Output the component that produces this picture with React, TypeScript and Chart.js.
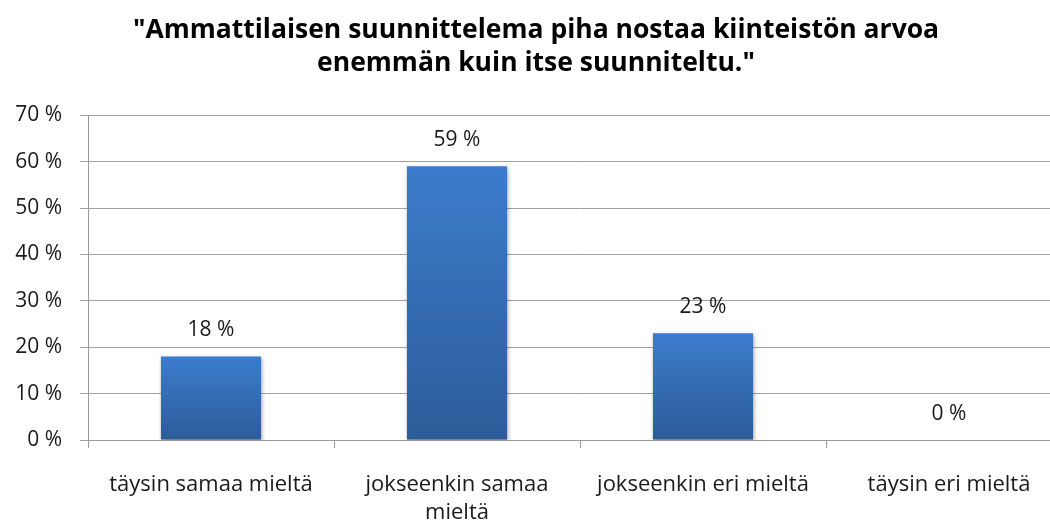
import React, { useEffect, useRef } from "react";
import { Chart, registerables } from "chart.js";

Chart.register(...registerables);

const titleLines = ['"Ammattilaisen suunnittelema piha nostaa kiinteistön arvoa', 'enemmän kuin itse suunniteltu."'];
const categories: string[][] = [
  ["täysin samaa mieltä"],
  ["jokseenkin samaa", "mieltä"],
  ["jokseenkin eri mieltä"],
  ["täysin eri mieltä"],
];
const values: number[] = [18, 59, 23, 0];
const yTicks: number[] = [0, 10, 20, 30, 40, 50, 60, 70];

const FONT = "'Open Sans', Lato, sans-serif";

const valueLabels = {
  id: "valueLabels",
  afterDatasetsDraw(chart: any) {
    const ctx = chart.ctx;
    const meta = chart.getDatasetMeta(0);
    ctx.save();
    ctx.font = `21px ${FONT}`;
    ctx.fillStyle = "#1a1a1a";
    ctx.textAlign = "center";
    ctx.textBaseline = "middle";
    meta.data.forEach((el: any, i: number) => {
      ctx.fillText(values[i] + " %", el.x, el.y - 26);
    });
    ctx.restore();
  },
};

const barShadow = {
  id: "barShadow",
  beforeDatasetsDraw(chart: any) {
    const ctx = chart.ctx;
    ctx.save();
    ctx.shadowColor = "rgba(0,0,0,0.35)";
    ctx.shadowBlur = 4;
    ctx.shadowOffsetX = 1;
    ctx.shadowOffsetY = 2;
  },
  afterDatasetsDraw(chart: any) {
    chart.ctx.restore();
  },
};

export default function App() {
  const ref = useRef<HTMLCanvasElement>(null);
  useEffect(() => {
    if (!ref.current) return;
    const chart = new Chart(ref.current, {
      type: "bar",
      data: {
        labels: categories,
        datasets: [
          {
            data: values,
            backgroundColor: (c: any) => {
              const ch = c.chart;
              const ys = ch.scales && ch.scales.y;
              if (!ch.chartArea || !ys || c.parsed == null) return "#3570b8";
              const top = ys.getPixelForValue(c.parsed.y);
              const bottom = ys.getPixelForValue(0);
              if (!isFinite(top) || !isFinite(bottom) || bottom - top < 1) return "#3570b8";
              const g = ch.ctx.createLinearGradient(0, top, 0, bottom);
              g.addColorStop(0, "#3c7ccc");
              g.addColorStop(1, "#2c5c99");
              return g;
            },
            barPercentage: 0.407,
            categoryPercentage: 1,
            borderWidth: 0,
          },
        ],
      },
      options: {
        animation: false,
        responsive: false,
        maintainAspectRatio: false,
        layout: { padding: { left: 0, right: 10, top: 0, bottom: 0 } },
        plugins: {
          legend: { display: false },
          tooltip: { enabled: false },
          title: {
            display: true,
            text: titleLines,
            color: "#000",
            font: { family: FONT, size: 26.5, weight: "bold", lineHeight: 1.25 },
            padding: { top: 14, bottom: 35 },
          },
        },
        scales: {
          x: {
            grid: { display: true, drawOnChartArea: false, tickLength: 8, color: "#9a9a9a", offset: true },
            border: { color: "#9a9a9a" },
            ticks: {
              color: "#1a1a1a",
              font: { family: FONT, size: 22, lineHeight: 1.3 },
              maxRotation: 0,
              autoSkip: false,
              padding: 22,
            },
            afterFit: (s: any) => {
              s.height = 85;
            },
          },
          y: {
            min: 0,
            max: 70,
            afterBuildTicks: (s: any) => {
              s.ticks = yTicks.map((v) => ({ value: v }));
            },
            grid: { color: "#a0a0a0", tickLength: 8 },
            border: { color: "#9a9a9a" },
            ticks: {
              color: "#1a1a1a",
              font: { family: FONT, size: 21 },
              padding: 18,
              callback: (v: any) => v + " %",
            },
            afterFit: (s: any) => {
              s.width = 88;
            },
          },
        },
      },
      plugins: [barShadow, valueLabels],
    } as any);
    return () => chart.destroy();
  }, []);
  return (
    <div style={{ position: "fixed", left: 0, top: 0, width: 1050, height: 525, overflow: "hidden", background: "#fff" }}>
      <canvas ref={ref} width={1082} height={525} style={{ display: "block", width: 1082, height: 525 }} />
    </div>
  );
}
